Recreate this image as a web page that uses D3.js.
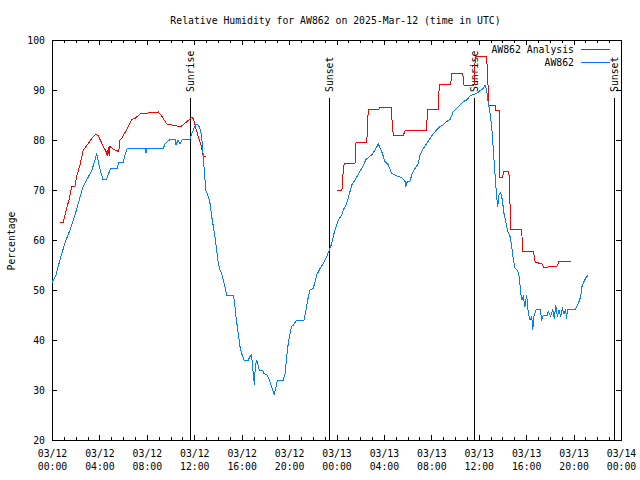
<!DOCTYPE html>
<html><head><meta charset="utf-8">
<script src="https://cdn.jsdelivr.net/npm/d3@7"></script>
<style>
body{margin:0;background:#fff;}
svg{display:block;font-family:"DejaVu Sans Mono","Liberation Mono",monospace;font-size:9.8px;}
</style></head><body><svg id="c" width="640" height="480"></svg>
<script>
// Hours since 2025-03-12 00:00 UTC
const obsHours = [0.00,0.34,0.67,1.10,1.52,1.94,2.36,2.62,3.04,3.37,3.63,3.77,3.96,4.28,4.61,4.95,5.54,5.59,6.01,6.16,6.35,7.85,7.93,8.01,9.39,9.53,9.95,10.38,10.46,10.63,10.80,10.97,11.64,11.78,11.92,12.12,12.34,12.54,12.68,12.76,12.82,12.91,12.97,13.19,13.33,13.47,13.61,13.75,13.89,14.03,14.17,14.32,14.45,14.59,14.74,15.29,15.38,15.52,15.63,15.75,15.86,16.00,16.20,16.56,16.70,16.81,16.87,16.98,17.07,17.15,17.27,17.38,17.49,17.77,17.88,18.16,18.33,18.53,18.75,18.90,19.01,19.51,19.66,19.80,19.93,20.08,20.22,20.36,20.64,21.26,21.43,21.57,21.76,22.04,22.19,22.33,22.61,22.89,23.17,23.39,23.60,23.79,23.87,24.15,24.44,24.57,24.86,25.14,25.28,25.56,25.92,26.21,26.49,26.68,26.97,27.25,27.53,27.81,28.09,28.37,28.66,28.94,29.21,29.50,29.78,29.86,29.97,30.20,30.34,30.62,30.90,31.04,31.32,31.61,31.89,32.17,32.45,32.73,33.01,33.30,33.58,33.85,34.14,34.42,34.70,34.98,35.26,35.54,35.83,36.11,36.38,36.53,36.67,36.81,36.95,37.09,37.23,37.37,37.51,37.60,37.71,37.85,37.99,38.13,38.27,38.41,38.64,38.78,38.92,39.06,39.25,39.42,39.54,39.65,39.76,39.90,40.04,40.18,40.32,40.47,40.55,40.66,40.83,41.17,41.31,41.45,41.78,41.87,42.07,42.24,42.38,42.50,42.63,42.77,42.91,43.05,43.19,43.33,43.42,43.47,44.12,44.40,44.60,44.71,44.88,45.05,45.24];
const obsValues = [51.5,53,56,59.5,62,65,68.5,70.7,72.5,74,76,77.3,75,72.2,72.2,74.4,74.4,75.5,75.5,77,78.3,78.3,77.5,78.3,78.3,79.2,80.1,80.1,79,80,79.3,80,80.1,81.3,82,83.1,83,82,79.3,76.7,74.7,72,70,68.7,67.3,64.7,62.7,60.7,58,55.3,54,53.3,52,50.7,49,49,48,44.7,42.7,40.7,38.7,37.3,36,36,36.7,37,36,33.3,31,34.7,36,35,34,34,33.3,33,32,30.7,29,30.7,32,32,33.3,36.7,39.3,41.3,42.7,43,44,44,46,48,50,50.3,51.7,53,54.3,55.3,56.7,58,59.3,61.3,62,64,65,66,67.3,69.7,71,72,73.5,74.7,76.1,76.5,77,78,79.2,77.7,75.7,75,73.3,73,72.7,72.5,71.7,70.7,71.7,71.7,73,74.3,75.3,77,78.3,79.3,80.3,81.3,82,82.7,83,83.7,84.1,85.7,86.3,87,87.7,88,88.8,89.1,89.3,89.9,90.3,91,90,87.3,85.3,82.7,78,73.3,68.7,66.7,69,69.5,68,65.3,63.7,62,60.7,58.7,56,54.3,54,52.7,49.3,48,48.7,46.7,49,45.3,44,44.7,42,44.7,46,46.1,44.1,45,45,45.7,44.8,46,44.3,47,44.7,46,44.7,46.3,45.3,46,44.3,46.1,46.1,47.3,48.7,50.7,51.7,52.5,53];

const anaHours = [0.67,0.95,1.24,1.43,1.66,1.94,2.08,2.36,2.64,3.06,3.35,3.71,3.91,4.13,4.33,4.56,4.67,4.75,4.83,4.89,5.23,5.63,5.74,5.88,6.35,6.72,7.00,7.42,7.70,8.97,9.25,9.68,10.52,10.94,11.79,11.92,12.06,12.34,12.54,12.76,12.97,18.0,24.07,24.46,24.57,24.66,25.56,25.65,26.55,26.68,27.53,27.67,28.60,28.79,29.64,29.78,30.71,31.61,31.66,32.59,32.67,33.63,33.74,34.65,34.76,35.60,35.71,36.67,36.72,36.86,37.37,37.43,37.73,37.79,38.02,38.09,38.49,38.58,38.64,38.68,39.62,39.71,40.60,40.77,41.31,41.50,42.63,42.75,43.76];
const anaValues = [63.5,63.5,66.3,68,70.7,70.8,72.7,75,78,79.3,80.3,81.2,80.8,79.7,78.7,77.7,76.8,78.5,76.8,78.7,78.1,77.7,80,80.3,82.3,84.1,84.3,85.2,85.3,85.6,84.8,83.2,82.8,82.8,84.5,84.3,83,80.7,79.3,76.8,76.8,null,70,70,74,75.3,75.3,79.5,79.5,86,86.1,86.5,86.5,81,81,81.8,82,82,86.1,86.1,91.2,91.2,93.3,93.3,91,91,96.7,96.7,94,87,87,86,86,72.6,72.6,73.7,73.7,72.6,67,62.1,62.1,57.8,57.8,55.5,55.3,54.5,54.8,55.7,55.7];

const sunHours = [11.64, 23.37, 35.60, 47.41];
const sunLabels = ["Sunrise", "Sunset", "Sunrise", "Sunset"];

const majorHours = [0,4,8,12,16,20,24,28,32,36,40,44,48];
const dateLabels = ["03/12","03/12","03/12","03/12","03/12","03/12","03/13","03/13","03/13","03/13","03/13","03/13","03/14"];
const timeLabels = ["00:00","04:00","08:00","12:00","16:00","20:00","00:00","04:00","08:00","12:00","16:00","20:00","00:00"];
const minorHours = d3.range(0, 49, 1);
const yTicks = [20,30,40,50,60,70,80,90,100];

const seriesNames = ["AW862 Analysis", "AW862"];
const seriesColors = ["#ff0000", "#0080ff"];

const L = 52, R = 621, T = 40, B = 440;
const svg = d3.select("#c");
const x = d3.scaleLinear().domain([0, 48]).range([L, R]);
const y = d3.scaleLinear().domain([20, 100]).range([B, T]);

// title
svg.append("text").attr("x", 335.5).attr("y", 24).attr("text-anchor", "middle")
  .text("Relative Humidity for AW862 on 2025-Mar-12 (time in UTC)");
// y label
svg.append("text").attr("transform", "translate(15,241) rotate(-90)").attr("text-anchor", "middle")
  .text("Percentage");

function clean(g){ g.attr("font-family", null).attr("font-size", null); g.select(".domain").remove(); g.selectAll("line").attr("shape-rendering","crispEdges"); }

// bottom axis
const gBm = svg.append("g").attr("transform", `translate(0,${B})`)
  .call(d3.axisBottom(x).tickValues(minorHours).tickSize(-3).tickFormat(""));
clean(gBm);
const gB = svg.append("g").attr("transform", `translate(0,${B})`)
  .call(d3.axisBottom(x).tickValues(majorHours).tickSize(-5).tickFormat((d,i)=>""));
clean(gB);
gB.selectAll(".tick text").each(function(d, i){
  const t = d3.select(this).attr("y", null).attr("dy", null);
  t.append("tspan").attr("x", 0).attr("y", 17).text(dateLabels[i]);
  t.append("tspan").attr("x", 0).attr("y", 30).text(timeLabels[i]);
});
// top axis
const gTm = svg.append("g").attr("transform", `translate(0,${T})`)
  .call(d3.axisTop(x).tickValues(minorHours).tickSize(-3).tickFormat(""));
clean(gTm);
const gT = svg.append("g").attr("transform", `translate(0,${T})`)
  .call(d3.axisTop(x).tickValues(majorHours).tickSize(-5).tickFormat(""));
clean(gT);
// left axis
const gL = svg.append("g").attr("transform", `translate(${L},0)`)
  .call(d3.axisLeft(y).tickValues(yTicks).tickSize(-5).tickPadding(7).tickFormat(d3.format("d")));
clean(gL);
gL.selectAll(".tick text").attr("dy", "0.36em");
// right axis
const gR = svg.append("g").attr("transform", `translate(${R},0)`)
  .call(d3.axisRight(y).tickValues(yTicks).tickSize(-5).tickFormat(""));
clean(gR);

// frame
svg.append("rect").attr("x", L + 0.5).attr("y", T + 0.5).attr("width", R - L).attr("height", B - T)
  .attr("fill", "none").attr("stroke", "#000").attr("shape-rendering", "crispEdges");

// sun lines
const sun = svg.append("g");
sunHours.forEach((h, i) => {
  const sx = Math.round(x(h)) + 0.5;
  sun.append("line").attr("x1", sx).attr("x2", sx).attr("y1", 98).attr("y2", B)
    .attr("stroke", "#000").attr("shape-rendering", "crispEdges");
  sun.append("text").attr("transform", `translate(${sx + 3.5},92) rotate(-90)`)
    .attr("text-anchor", "start").text(sunLabels[i]);
});

// series
const lineA = d3.line().defined(d => d[1] != null).x(d => x(d[0])).y(d => y(d[1]));
svg.append("path").datum(anaHours.map((h, i) => [h, anaValues[i]]))
  .attr("d", lineA).attr("fill", "none").attr("stroke", seriesColors[0]).attr("stroke-width", 1)
  .attr("shape-rendering", "crispEdges");
svg.append("path").datum(obsHours.map((h, i) => [h, obsValues[i]]))
  .attr("d", lineA).attr("fill", "none").attr("stroke", seriesColors[1]).attr("stroke-width", 1)
  .attr("shape-rendering", "crispEdges");

// legend
const leg = svg.append("g");
seriesNames.forEach((n, i) => {
  const ly = 49.5 + i * 13;
  leg.append("text").attr("x", 574).attr("y", ly + 3.5).attr("text-anchor", "end").text(n);
  leg.append("line").attr("x1", 581).attr("x2", 610).attr("y1", ly).attr("y2", ly)
    .attr("stroke", seriesColors[i]).attr("shape-rendering", "crispEdges");
});
</script></body></html>
